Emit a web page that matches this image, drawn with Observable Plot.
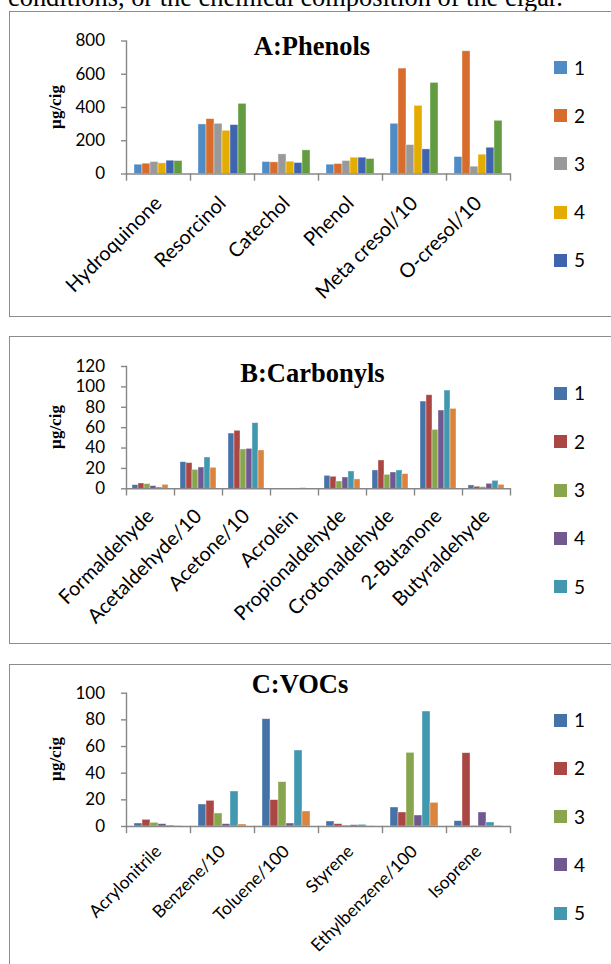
<!DOCTYPE html>
<html>
<head>
<meta charset="utf-8">
<script src="https://cdn.jsdelivr.net/npm/d3@7"></script>
<script src="https://cdn.jsdelivr.net/npm/@observablehq/plot@0.6"></script>
<style>
  html, body { margin: 0; padding: 0; background: #fff; }
  body { width: 611px; height: 964px; overflow: hidden; position: relative; font-family: Lato, sans-serif; }
  .topline { position: absolute; left: 8px; top: 0; font-family: "Liberation Serif", "Times New Roman", serif; font-size: 26.4px; line-height: 1; white-space: nowrap; color: #000; }
  .box { position: absolute; left: 9px; width: 700px; border: 1.5px solid #8c8c8c; box-sizing: border-box; }
  .plotwrap { position: absolute; left: 0; }
  .title { position: absolute; font-family: "Liberation Serif", "Times New Roman", serif; font-weight: bold; font-size: 26.5px; line-height: 1; white-space: nowrap; transform: translateX(-50%); color: #000; }
  .ylab { position: absolute; font-family: "Liberation Serif", "Times New Roman", serif; font-weight: bold; font-size: 17px; line-height: 1; white-space: nowrap; transform: translate(-50%, -50%) rotate(-90deg); color: #000; }
  .leg { position: absolute; left: 554px; height: 0; }
  .leg .sw { position: absolute; left: 0; top: -6.5px; width: 13px; height: 13px; }
  .leg .lb { position: absolute; left: 20px; top: -11px; font-family: Lato, sans-serif; font-size: 19px; line-height: 22px; color: #000; }
</style>
</head>
<body>
<div class="topline" style="top:-16px">conditions, or the chemical composition of the cigar.</div>
<script>
// ---------- data ----------
const seriesNames = ["1", "2", "3", "4", "5", "6"];
const legendNames = ["1", "2", "3", "4", "5"];

// A: Phenols (µg/cig)
const phenolCategories = ["Hydroquinone", "Resorcinol", "Catechol", "Phenol", "Meta cresol/10", "O-cresol/10"];
const phenol1 = [56, 298, 72, 56, 302, 102];
const phenol2 = [62, 330, 70, 60, 634, 738];
const phenol3 = [72, 302, 118, 78, 174, 44];
const phenol4 = [64, 260, 74, 98, 410, 116];
const phenol5 = [80, 294, 66, 98, 148, 158];
const phenol6 = [78, 422, 142, 90, 548, 320];
const phenolTicks = [0, 200, 400, 600, 800];

// B: Carbonyls (µg/cig)
const carbonylCategories = ["Formaldehyde", "Acetaldehyde/10", "Acetone/10", "Acrolein", "Propionaldehyde", "Crotonaldehyde", "2-Butanone", "Butyraldehyde"];
const carbonyl1 = [3.6, 26.1, 54.2, 0.3, 12.7, 18.0, 85.6, 3.3];
const carbonyl2 = [5.2, 25.2, 56.9, 0.3, 11.8, 27.8, 91.8, 2.0];
const carbonyl3 = [4.6, 18.6, 38.6, 0.2, 7.2, 13.7, 57.8, 1.6];
const carbonyl4 = [2.6, 20.9, 39.2, 0.3, 11.1, 16.0, 76.8, 4.9];
const carbonyl5 = [1.3, 30.7, 64.4, 0.6, 17.0, 18.0, 96.4, 7.8];
const carbonyl6 = [3.9, 20.6, 37.6, 0.2, 9.2, 14.4, 78.4, 3.9];
const carbonylTicks = [0, 20, 40, 60, 80, 100, 120];

// C: VOCs (µg/cig)
const vocCategories = ["Acrylonitrile", "Benzene/10", "Toluene/100", "Styrene", "Ethylbenzene/100", "Isoprene"];
const voc1 = [2.25, 16.5, 80.5, 3.75, 14.25, 4.0];
const voc2 = [5.0, 19.25, 19.75, 1.75, 10.5, 55.0];
const voc3 = [2.75, 9.75, 33.25, 0.75, 55.25, 0.5];
const voc4 = [1.75, 1.75, 2.25, 1.0, 8.25, 10.5];
const voc5 = [0.75, 26.25, 57.0, 1.25, 86.25, 3.0];
const voc6 = [0.25, 1.5, 11.25, 0.2, 17.75, 0.5];
const vocTicks = [0, 20, 40, 60, 80, 100];

const titles = ["A:Phenols", "B:Carbonyls", "C:VOCs"];
const yLabel = "µg/cig";

// ---------- styles ----------
const colorsA = ["#4F8BC5", "#D76C2C", "#999999", "#E5AC00", "#3E64AE", "#629B40"];
const colorsBC = ["#4572A7", "#AA4643", "#89A54E", "#71588F", "#4198AF", "#DB843D"];
const axisColor = "#878787";

// ---------- layout (page px) ----------
const axisLeft = 125, axisRight = 511, svgWidth = 530;
const panels = [
  {cats: phenolCategories, series: [phenol1, phenol2, phenol3, phenol4, phenol5, phenol6], ticks: phenolTicks, colors: colorsA,
   boxTop: 11, boxBottom: 316.5, yTop: 40.5, y0: 173.5, titleX: 312, titleMid: 46.5, legendTop: 67.5, legendStep: 48.2,
   catFont: 20, catPad: 26},
  {cats: carbonylCategories, series: [carbonyl1, carbonyl2, carbonyl3, carbonyl4, carbonyl5, carbonyl6], ticks: carbonylTicks, colors: colorsBC,
   boxTop: 336, boxBottom: 643.5, yTop: 366, y0: 488.3, titleX: 312.5, titleMid: 373.5, legendTop: 393.3, legendStep: 48.35,
   catFont: 20, catPad: 24},
  {cats: vocCategories, series: [voc1, voc2, voc3, voc4, voc5, voc6], ticks: vocTicks, colors: colorsBC,
   boxTop: 664, boxBottom: 980, yTop: 692.7, y0: 826, titleX: 300, titleMid: 684, legendTop: 720, legendStep: 48.3,
   catFont: 17.5, catPad: 22}
];

panels.forEach((p, k) => {
  // bordered box
  const box = document.createElement("div");
  box.className = "box";
  box.style.top = p.boxTop + "px";
  box.style.height = (p.boxBottom - p.boxTop) + "px";
  document.body.appendChild(box);

  const table = p.cats.flatMap((c, i) => p.series.map((arr, j) => ({cat: c, s: seriesNames[j], v: arr[i]})));
  const height = Math.min(p.boxBottom, 964) - p.boxTop;
  const marginTop = p.yTop - p.boxTop;
  const marginBottom = height - (p.y0 - p.boxTop);
  const frameH = p.y0 - p.yTop;
  const catW = (axisRight - axisLeft) / p.cats.length;
  const gap = catW * 0.1;

  const chart = Plot.plot({
    width: svgWidth,
    height,
    marginLeft: axisLeft,
    marginRight: svgWidth - axisRight,
    marginTop,
    marginBottom,
    fx: {domain: p.cats, padding: 0, axis: null, label: null},
    x: {domain: seriesNames, padding: 0, insetLeft: gap, insetRight: gap, axis: null, label: null},
    y: {domain: [0, p.ticks[p.ticks.length - 1]], axis: null, label: null},
    color: {domain: seriesNames, range: p.colors},
    style: {fontFamily: "Lato, sans-serif", fontSize: "17px", color: "#000", background: "transparent", overflow: "visible"},
    marks: [
      Plot.barY(table, {fx: "cat", x: "s", y: "v", fill: "s", stroke: "#fff", strokeOpacity: 0.55, strokeWidth: 0.7}),
      Plot.ruleY([0], {stroke: axisColor, strokeWidth: 1.4}),
      Plot.frame({anchor: "left", facetAnchor: "left", stroke: axisColor, strokeWidth: 1.4}),
      Plot.frame({anchor: "left", insetTop: frameH, insetBottom: -6, stroke: axisColor, strokeWidth: 1.4}),
      Plot.frame({anchor: "right", facetAnchor: "right", insetTop: frameH, insetBottom: -6, stroke: axisColor, strokeWidth: 1.4}),
      Plot.axisY({ticks: p.ticks, tickSize: 5, tickPadding: 16.5, stroke: axisColor, strokeWidth: 1.4, label: null, fontSize: 17, fill: "#000"}),
      Plot.axisFx({anchor: "bottom", tickSize: 0, tickRotate: -45, tickPadding: p.catPad, fontSize: p.catFont, label: null, fill: "#000"})
    ]
  });
  const wrap = document.createElement("div");
  wrap.className = "plotwrap";
  wrap.style.top = p.boxTop + "px";
  wrap.appendChild(chart);
  document.body.appendChild(wrap);

  // title
  const t = document.createElement("div");
  t.className = "title";
  t.textContent = titles[k];
  t.style.left = p.titleX + "px";
  t.style.top = (p.titleMid - 13.4) + "px";
  document.body.appendChild(t);

  // y label
  const yl = document.createElement("div");
  yl.className = "ylab";
  yl.textContent = yLabel;
  yl.style.left = "55px";
  yl.style.top = ((p.yTop + p.y0) / 2) + "px";
  document.body.appendChild(yl);

  // legend
  legendNames.forEach((name, i) => {
    const item = document.createElement("div");
    item.className = "leg";
    item.style.top = (p.legendTop + i * p.legendStep) + "px";
    const sw = document.createElement("div");
    sw.className = "sw";
    sw.style.background = p.colors[seriesNames.indexOf(name)];
    const lb = document.createElement("div");
    lb.className = "lb";
    lb.textContent = name;
    item.appendChild(sw);
    item.appendChild(lb);
    document.body.appendChild(item);
  });
});
</script>
</body>
</html>
